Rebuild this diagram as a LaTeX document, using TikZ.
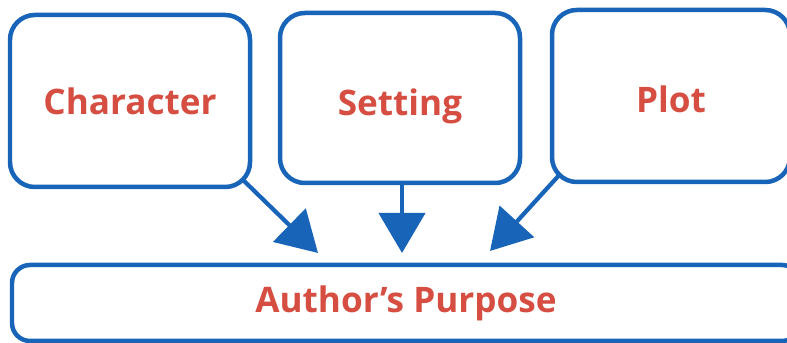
\documentclass[tikz,border=0pt]{standalone}
\usepackage{fontspec}
\setmainfont{Open Sans}
\usepackage{tikz}
\usetikzlibrary{arrows.meta, backgrounds}

\definecolor{boxblue}{RGB}{24,100,184}
\definecolor{textred}{RGB}{214,78,66}

\newcommand{\lowered}[2]{\raisebox{-#1}[\height][\depth]{#2}}

\tikzset{
  elembox/.style={draw=boxblue, line width=3.2pt, rounded corners=0.62cm, fill=white,
    minimum width=6cm, minimum height=4.3cm, text=textred,
    font=\fontsize{25}{30}\selectfont\bfseries},
  flowarrow/.style={draw=boxblue, line width=3pt, -{Triangle[width=1.15cm,length=1.0cm]}}
}

\begin{document}
\begin{tikzpicture}
  \useasboundingbox (0,0) rectangle (19.675,8.575);

  \node[elembox] (char) at (3.25,6.05) {Character};
  \node[elembox, minimum height=4.25cm] (sett) at (10.0,6.125) {\lowered{0.2cm}{Setting}};
  \node[elembox, minimum width=5.95cm] (plot) at (16.775,6.175) {\lowered{0.08cm}{Plot}};

  \node[elembox, minimum width=19.7cm, minimum height=1.9cm, rounded corners=0.45cm]
    (purp) at (10.15,1.0) {Author’s Purpose};

  \coordinate (tipC) at (7.95,2.25);
  \coordinate (tipS) at (10.05,2.25);
  \coordinate (tipP) at (12.25,2.3);

  \begin{scope}[on background layer]
    \draw[flowarrow] ([shift={(-0.3,0.3)}]char.south east) -- (tipC);
    \draw[flowarrow] (sett.south -| tipS) -- (tipS);
    \draw[flowarrow] ([shift={(0.3,0.3)}]plot.south west) -- (tipP);
  \end{scope}
\end{tikzpicture}
\end{document}
